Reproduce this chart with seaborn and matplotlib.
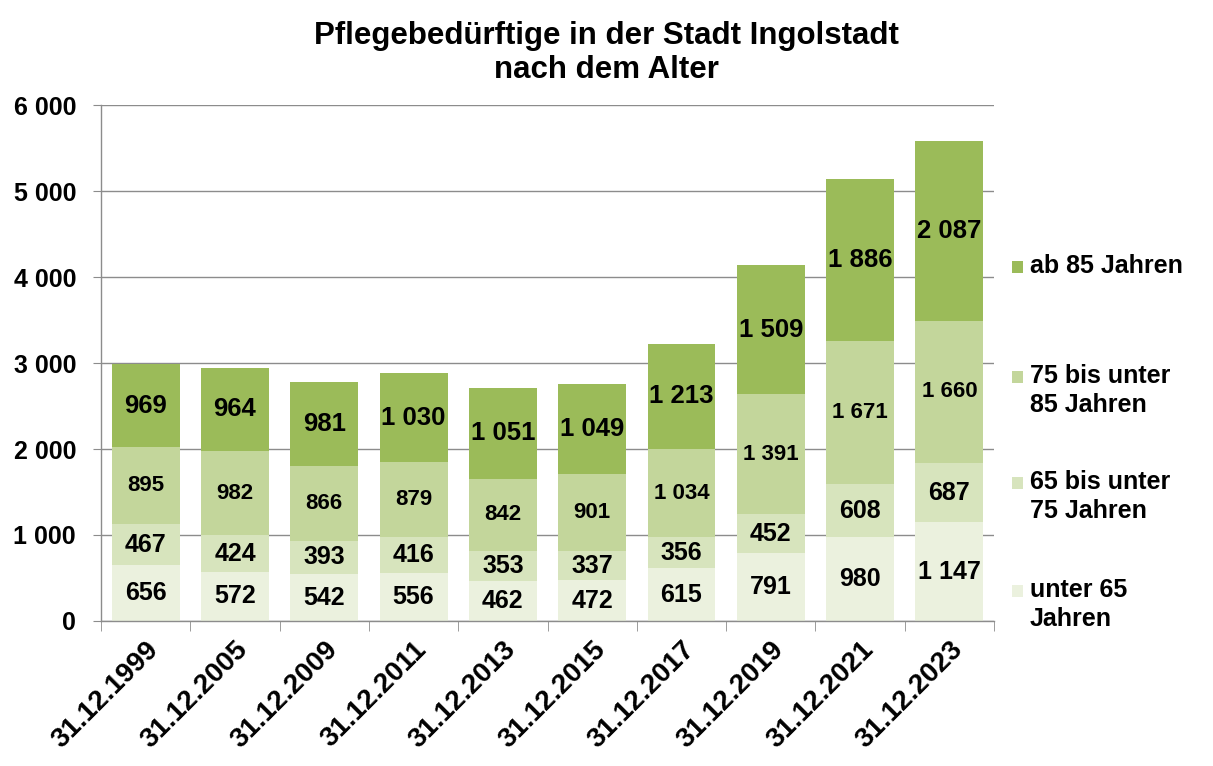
import matplotlib
matplotlib.use("Agg")
import matplotlib.pyplot as plt
import seaborn as sns
import pandas as pd
import numpy as np
from matplotlib.patches import Rectangle
from matplotlib.ticker import FuncFormatter, FixedLocator

# ---- data ----
dates = ["31.12.1999", "31.12.2005", "31.12.2009", "31.12.2011", "31.12.2013",
         "31.12.2015", "31.12.2017", "31.12.2019", "31.12.2021", "31.12.2023"]
unter_65 = [656, 572, 542, 556, 462, 472, 615, 791, 980, 1147]
bis_75 = [467, 424, 393, 416, 353, 337, 356, 452, 608, 687]
bis_85 = [895, 982, 866, 879, 842, 901, 1034, 1391, 1671, 1660]
ab_85 = [969, 964, 981, 1030, 1051, 1049, 1213, 1509, 1886, 2087]

groups = ["unter 65\nJahren", "65 bis unter\n75 Jahren", "75 bis unter\n85 Jahren", "ab 85 Jahren"]
colors = ["#EBF1DE", "#D7E4BD", "#C3D69B", "#9BBB59"]
label_sizes = [18, 18, 16, 18.5]

df = pd.DataFrame({"Datum": dates, groups[0]: unter_65, groups[1]: bis_75,
                   groups[2]: bis_85, groups[3]: ab_85})

sns.set_style("white")
plt.rcParams["font.family"] = ["Liberation Sans", "DejaVu Sans"]
plt.rcParams["font.weight"] = "bold"
plt.rcParams["text.color"] = "black"
plt.rcParams["xtick.color"] = "black"
plt.rcParams["ytick.color"] = "black"

fig = plt.figure(figsize=(12.13, 7.66), dpi=100)
ax = fig.add_axes([0.0833, 0.1893, 0.7362, 0.6736])

fmt = lambda v: f"{int(v):,}".replace(",", " ")

bottom = np.zeros(len(dates))
for g, c, fs in zip(groups, colors, label_sizes):
    vals = df[g].to_numpy()
    sns.barplot(x=df["Datum"], y=vals, bottom=bottom, color=c, width=0.76,
                saturation=1, linewidth=0, edgecolor="none", ax=ax, zorder=2)
    for i, v in enumerate(vals):
        ax.text(i, bottom[i] + v / 2, fmt(v), ha="center", va="center",
                fontsize=fs, fontweight="bold", color="black", zorder=3)
    bottom = bottom + vals

ax.set_ylim(0, 6000)
ax.set_xlim(-0.5, len(dates) - 0.5)
ax.set_yticks(range(0, 6001, 1000))
ax.yaxis.set_major_formatter(FuncFormatter(lambda v, p: fmt(v)))
ax.grid(axis="y", color="#8c8c8c", linewidth=1, zorder=0)
ax.set_axisbelow(True)
ax.set_xlabel("")
ax.set_ylabel("")

for s in ["top", "right"]:
    ax.spines[s].set_visible(False)
for s in ["left", "bottom"]:
    ax.spines[s].set_color("#8c8c8c")
    ax.spines[s].set_linewidth(1)

ax.tick_params(axis="y", length=6, color="#8c8c8c", labelcolor="black", direction="out",
               left=True, labelsize=18, pad=12)
ax.xaxis.set_minor_locator(FixedLocator(np.arange(-0.5, len(dates), 1.0)))
ax.tick_params(axis="x", which="major", length=0, labelsize=20, labelcolor="black", pad=11)
ax.tick_params(axis="x", which="minor", length=7, color="#8c8c8c", bottom=True, direction="out")
for lab in ax.get_xticklabels():
    lab.set_rotation(45)
    lab.set_ha("right")
    lab.set_rotation_mode("anchor")
    lab.set_fontweight("bold")
for lab in ax.get_yticklabels():
    lab.set_fontweight("bold")

# title
fig.text(0.5, 0.972, "Pflegebedürftige in der Stadt Ingolstadt\nnach dem Alter",
         ha="center", va="top", fontsize=22.5, fontweight="bold", color="black",
         linespacing=1.15)

# legend (manual, handle aligned to first line)
leg_y = [267, 377, 483, 591]  # px from top, first text line centres
for g, c, y in zip(groups[::-1], colors[::-1], leg_y):
    fy = 1 - y / 766
    fig.patches.append(Rectangle((1012 / 1213, fy - 6 / 766), 11 / 1213, 12 / 766,
                                 transform=fig.transFigure, facecolor=c, edgecolor="none"))
    fig.text(1030 / 1213, fy + 13 / 766, g, ha="left", va="top", fontsize=18,
             fontweight="bold", color="black", linespacing=1.25)

fig.savefig("out.png", dpi=100)
